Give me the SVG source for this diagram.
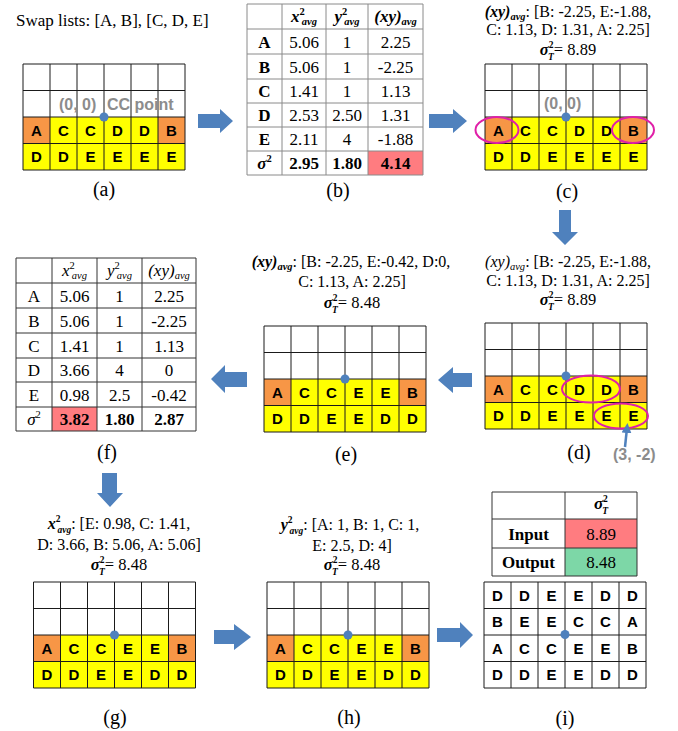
<svg xmlns="http://www.w3.org/2000/svg" width="678" height="731" viewBox="0 0 678 731">
<style>
.sf{font-family:"Liberation Serif","Times New Roman",serif;fill:#000}
.ss{font-family:"Liberation Sans",Arial,sans-serif}
.L{font-family:"Liberation Sans",Arial,sans-serif;font-weight:bold;font-size:15px;text-anchor:middle;fill:#000}
.o{fill:#F79646}
.y{fill:#FFFF00}
.w{fill:#FFFFFF}
.gl{fill:none;stroke:#1a1a1a;stroke-width:1}
.tb{fill:none;stroke:#8a8a8a;stroke-width:1}
.tbk{fill:none;stroke:#333;stroke-width:1}
.arr{fill:#4F81BD}
.dot{fill:#4F81BD}
.el{fill:none;stroke:#E020A8;stroke-width:2}
.gray{font-family:"Liberation Sans",Arial,sans-serif;font-weight:bold;font-size:16px;fill:#8C8C8C}
.blk{font-size:16px;text-anchor:middle}
.sig{font-size:16.5px;text-anchor:middle}
.bi{font-weight:bold;font-style:italic}
.it{font-style:italic}
.b{font-weight:bold}
.sm{font-size:10.5px}
.s9{font-size:9.5px}
.td{font-size:17px;text-anchor:middle}
.lab{font-size:20px;text-anchor:middle}
.red{fill:#FF7C80}
.grn{fill:#7DD7A7}
</style>
<defs>
<path id="gridlines" class="gl" d="M0,0H162V106H0Z M27,0V106 M54,0V106 M81,0V106 M108,0V106 M135,0V106 M0,26.5H162 M0,53H162 M0,79.5H162"/>
<marker id="ah" viewBox="0 0 10 10" refX="5" refY="5" markerWidth="4" markerHeight="4" orient="auto">
<path d="M0,0L10,5L0,10Z" fill="#4F81BD"/>
</marker>
</defs>

<text class="sf" x="16" y="26" font-size="17">Swap lists: [A, B], [C, D, E]</text>

<!-- (a) -->
<g id="node-a">
<g transform="translate(23,64)">
<rect class="w" x="0" y="0" width="162" height="53"/>
<rect class="y" x="0" y="53" width="162" height="53"/>
<rect class="o" x="0" y="53" width="27" height="26.5"/>
<rect class="o" x="135" y="53" width="27" height="26.5"/>
<use href="#gridlines"/>
<text class="L" x="13.5" y="71.5">A</text><text class="L" x="40.5" y="71.5">C</text><text class="L" x="67.5" y="71.5">C</text><text class="L" x="94.5" y="71.5">D</text><text class="L" x="121.5" y="71.5">D</text><text class="L" x="148.5" y="71.5">B</text>
<text class="L" x="13.5" y="98">D</text><text class="L" x="40.5" y="98">D</text><text class="L" x="67.5" y="98">E</text><text class="L" x="94.5" y="98">E</text><text class="L" x="121.5" y="98">E</text><text class="L" x="148.5" y="98">E</text>
<text class="gray" x="36" y="46">(0, 0)</text>
<text class="gray" x="84" y="46">CC point</text>
<circle class="dot" cx="81" cy="53" r="4.5"/>
</g>
<text class="sf lab" x="104" y="196">(a)</text>
</g>

<!-- (b) -->
<g id="node-b">
<rect class="red" x="368" y="151" width="55" height="24"/>
<path class="tb" d="M247,4H423V175H247Z M282,4V175 M326,4V175 M368,4V175 M247,29H423 M247,54H423 M247,79H423 M247,103H423 M247,127H423 M247,151H423"/>
<text class="sf td" x="304" y="22"><tspan class="bi">x</tspan><tspan class="b sm" dy="-7">2</tspan><tspan class="bi sm" dx="-3" dy="10">avg</tspan></text>
<text class="sf td" x="347" y="22"><tspan class="bi">y</tspan><tspan class="b sm" dy="-7">2</tspan><tspan class="bi sm" dx="-3" dy="10">avg</tspan></text>
<text class="sf td" x="395.5" y="22"><tspan class="bi">(xy)</tspan><tspan class="bi sm" dy="3">avg</tspan></text>
<text class="sf td b" x="264.5" y="47.5">A</text><text class="sf td" x="304" y="47.5">5.06</text><text class="sf td" x="347" y="47.5">1</text><text class="sf td" x="395.5" y="47.5">2.25</text>
<text class="sf td b" x="264.5" y="72.5">B</text><text class="sf td" x="304" y="72.5">5.06</text><text class="sf td" x="347" y="72.5">1</text><text class="sf td" x="395.5" y="72.5">-2.25</text>
<text class="sf td b" x="264.5" y="97">C</text><text class="sf td" x="304" y="97">1.41</text><text class="sf td" x="347" y="97">1</text><text class="sf td" x="395.5" y="97">1.13</text>
<text class="sf td b" x="264.5" y="121">D</text><text class="sf td" x="304" y="121">2.53</text><text class="sf td" x="347" y="121">2.50</text><text class="sf td" x="395.5" y="121">1.31</text>
<text class="sf td b" x="264.5" y="145">E</text><text class="sf td" x="304" y="145">2.11</text><text class="sf td" x="347" y="145">4</text><text class="sf td" x="395.5" y="145">-1.88</text>
<text class="sf td" x="264.5" y="169"><tspan class="bi">σ</tspan><tspan class="b sm" dy="-7">2</tspan></text><text class="sf td b" x="304" y="169">2.95</text><text class="sf td b" x="347" y="169">1.80</text><text class="sf td b" x="395.5" y="169">4.14</text>
<text class="sf lab" x="338" y="197">(b)</text>
</g>

<!-- (c) -->
<g id="node-c">
<text class="sf blk" x="568" y="17"><tspan class="bi">(xy)</tspan><tspan class="bi sm" dy="3">avg</tspan><tspan dy="-3">: [B: -2.25, E:-1.88,</tspan></text>
<text class="sf blk" x="568" y="35">C: 1.13, D: 1.31, A: 2.25]</text>
<text class="sf sig" x="568" y="55"><tspan class="bi">σ</tspan><tspan class="b s9" dy="-7">2</tspan><tspan class="bi s9" dx="-5.5" dy="12">T</tspan><tspan dy="-5">= 8.89</tspan></text>
<g transform="translate(485,64)">
<rect class="w" x="0" y="0" width="162" height="53"/>
<rect class="y" x="0" y="53" width="162" height="53"/>
<rect class="o" x="0" y="53" width="27" height="26.5"/>
<rect class="o" x="135" y="53" width="27" height="26.5"/>
<use href="#gridlines"/>
<text class="L" x="13.5" y="71.5">A</text><text class="L" x="40.5" y="71.5">C</text><text class="L" x="67.5" y="71.5">C</text><text class="L" x="94.5" y="71.5">D</text><text class="L" x="121.5" y="71.5">D</text><text class="L" x="148.5" y="71.5">B</text>
<text class="L" x="13.5" y="98">D</text><text class="L" x="40.5" y="98">D</text><text class="L" x="67.5" y="98">E</text><text class="L" x="94.5" y="98">E</text><text class="L" x="121.5" y="98">E</text><text class="L" x="148.5" y="98">E</text>
<text class="gray" x="59" y="45">(0, 0)</text>
<circle class="dot" cx="81" cy="53" r="4.5"/>
<ellipse class="el" cx="12" cy="66" rx="21.5" ry="13"/>
<ellipse class="el" cx="148" cy="66" rx="21" ry="13"/>
</g>
<text class="sf lab" x="567" y="198">(c)</text>
</g>

<!-- (d) -->
<g id="node-d">
<text class="sf blk" x="568" y="267"><tspan class="it">(xy)</tspan><tspan class="it sm" dy="3">avg</tspan><tspan dy="-3">: [B: -2.25, E:-1.88,</tspan></text>
<text class="sf blk" x="568" y="286">C: 1.13, D: 1.31, A: 2.25]</text>
<text class="sf sig" x="568" y="305"><tspan class="bi">σ</tspan><tspan class="b s9" dy="-7">2</tspan><tspan class="bi s9" dx="-5.5" dy="12">T</tspan><tspan dy="-5">= 8.89</tspan></text>
<g transform="translate(485,323)">
<rect class="w" x="0" y="0" width="162" height="53"/>
<rect class="y" x="0" y="53" width="162" height="53"/>
<rect class="o" x="0" y="53" width="27" height="26.5"/>
<rect class="o" x="135" y="53" width="27" height="26.5"/>
<use href="#gridlines"/>
<text class="L" x="13.5" y="71.5">A</text><text class="L" x="40.5" y="71.5">C</text><text class="L" x="67.5" y="71.5">C</text><text class="L" x="94.5" y="71.5">D</text><text class="L" x="121.5" y="71.5">D</text><text class="L" x="148.5" y="71.5">B</text>
<text class="L" x="13.5" y="98">D</text><text class="L" x="40.5" y="98">D</text><text class="L" x="67.5" y="98">E</text><text class="L" x="94.5" y="98">E</text><text class="L" x="121.5" y="98">E</text><text class="L" x="148.5" y="98">E</text>
<circle class="dot" cx="81" cy="53" r="4.5"/>
<ellipse class="el" cx="106" cy="66" rx="29" ry="13.5"/>
<ellipse class="el" cx="136" cy="93" rx="27" ry="12.5"/>
</g>
<line x1="625" y1="447" x2="627" y2="428" stroke="#4F81BD" stroke-width="2.5" marker-end="url(#ah)"/>
<text class="gray" x="613" y="460" font-size="15.5">(3, -2)</text>
<text class="sf lab" x="579" y="459">(d)</text>
</g>

<!-- (e) -->
<g id="node-e">
<text class="sf blk" x="351" y="267"><tspan class="bi">(xy)</tspan><tspan class="bi sm" dy="3">avg</tspan><tspan dy="-3">: [B: -2.25, E:-0.42, D:0,</tspan></text>
<text class="sf blk" x="352" y="287">C: 1.13, A: 2.25]</text>
<text class="sf sig" x="352" y="308"><tspan class="bi">σ</tspan><tspan class="b s9" dy="-7">2</tspan><tspan class="bi s9" dx="-5.5" dy="12">T</tspan><tspan dy="-5">= 8.48</tspan></text>
<g transform="translate(264,326)">
<rect class="w" x="0" y="0" width="162" height="53"/>
<rect class="y" x="0" y="53" width="162" height="53"/>
<rect class="o" x="0" y="53" width="27" height="26.5"/>
<rect class="o" x="135" y="53" width="27" height="26.5"/>
<use href="#gridlines"/>
<text class="L" x="13.5" y="71.5">A</text><text class="L" x="40.5" y="71.5">C</text><text class="L" x="67.5" y="71.5">C</text><text class="L" x="94.5" y="71.5">E</text><text class="L" x="121.5" y="71.5">E</text><text class="L" x="148.5" y="71.5">B</text>
<text class="L" x="13.5" y="98">D</text><text class="L" x="40.5" y="98">D</text><text class="L" x="67.5" y="98">E</text><text class="L" x="94.5" y="98">E</text><text class="L" x="121.5" y="98">D</text><text class="L" x="148.5" y="98">D</text>
<circle class="dot" cx="81" cy="53" r="4.5"/>
</g>
<text class="sf lab" x="346" y="461">(e)</text>
</g>

<!-- (f) -->
<g id="node-f">
<rect class="red" x="52" y="407" width="45" height="24"/>
<path class="tbk" d="M16,258H196V431H16Z M52,258V431 M97,258V431 M142,258V431 M16,283H196 M16,308H196 M16,333H196 M16,358H196 M16,382H196 M16,407H196"/>
<text class="sf td" x="74.5" y="276"><tspan class="it">x</tspan><tspan class="sm" dy="-7">2</tspan><tspan class="it sm" dx="-3" dy="10">avg</tspan></text>
<text class="sf td" x="119.5" y="276"><tspan class="it">y</tspan><tspan class="sm" dy="-7">2</tspan><tspan class="it sm" dx="-3" dy="10">avg</tspan></text>
<text class="sf td" x="169" y="276"><tspan class="it">(xy)</tspan><tspan class="it sm" dy="3">avg</tspan></text>
<text class="sf td" x="34" y="301.5">A</text><text class="sf td" x="74.5" y="301.5">5.06</text><text class="sf td" x="119.5" y="301.5">1</text><text class="sf td" x="169" y="301.5">2.25</text>
<text class="sf td" x="34" y="326.5">B</text><text class="sf td" x="74.5" y="326.5">5.06</text><text class="sf td" x="119.5" y="326.5">1</text><text class="sf td" x="169" y="326.5">-2.25</text>
<text class="sf td" x="34" y="351.5">C</text><text class="sf td" x="74.5" y="351.5">1.41</text><text class="sf td" x="119.5" y="351.5">1</text><text class="sf td" x="169" y="351.5">1.13</text>
<text class="sf td" x="34" y="376">D</text><text class="sf td" x="74.5" y="376">3.66</text><text class="sf td" x="119.5" y="376">4</text><text class="sf td" x="169" y="376">0</text>
<text class="sf td" x="34" y="400.5">E</text><text class="sf td" x="74.5" y="400.5">0.98</text><text class="sf td" x="119.5" y="400.5">2.5</text><text class="sf td" x="169" y="400.5">-0.42</text>
<text class="sf td" x="34" y="425"><tspan class="it">σ</tspan><tspan class="sm" dy="-7">2</tspan></text><text class="sf td b" x="74.5" y="425">3.82</text><text class="sf td b" x="119.5" y="425">1.80</text><text class="sf td b" x="169" y="425">2.87</text>
<text class="sf lab" x="107" y="459">(f)</text>
</g>

<!-- (g) -->
<g id="node-g">
<text class="sf blk" x="119" y="529"><tspan class="bi">x</tspan><tspan class="b s9" dy="-7">2</tspan><tspan class="bi s9" dx="-3" dy="11">avg</tspan><tspan dy="-4">: [E: 0.98, C: 1.41,</tspan></text>
<text class="sf blk" x="119" y="550">D: 3.66, B: 5.06, A: 5.06]</text>
<text class="sf sig" x="119" y="570"><tspan class="bi">σ</tspan><tspan class="b s9" dy="-7">2</tspan><tspan class="bi s9" dx="-5.5" dy="12">T</tspan><tspan dy="-5">= 8.48</tspan></text>
<g transform="translate(33.5,582)">
<rect class="w" x="0" y="0" width="162" height="53"/>
<rect class="y" x="0" y="53" width="162" height="53"/>
<rect class="o" x="0" y="53" width="27" height="26.5"/>
<rect class="o" x="135" y="53" width="27" height="26.5"/>
<use href="#gridlines"/>
<text class="L" x="13.5" y="71.5">A</text><text class="L" x="40.5" y="71.5">C</text><text class="L" x="67.5" y="71.5">C</text><text class="L" x="94.5" y="71.5">E</text><text class="L" x="121.5" y="71.5">E</text><text class="L" x="148.5" y="71.5">B</text>
<text class="L" x="13.5" y="98">D</text><text class="L" x="40.5" y="98">D</text><text class="L" x="67.5" y="98">E</text><text class="L" x="94.5" y="98">E</text><text class="L" x="121.5" y="98">D</text><text class="L" x="148.5" y="98">D</text>
<circle class="dot" cx="81" cy="53" r="4.5"/>
</g>
<text class="sf lab" x="115" y="724">(g)</text>
</g>

<!-- (h) -->
<g id="node-h">
<text class="sf blk" x="350" y="530"><tspan class="bi">y</tspan><tspan class="b s9" dy="-7">2</tspan><tspan class="bi s9" dx="-3" dy="11">avg</tspan><tspan dy="-4">: [A: 1, B: 1, C: 1,</tspan></text>
<text class="sf blk" x="352" y="551">E: 2.5, D: 4]</text>
<text class="sf sig" x="352" y="570"><tspan class="bi">σ</tspan><tspan class="b s9" dy="-7">2</tspan><tspan class="bi s9" dx="-5.5" dy="12">T</tspan><tspan dy="-5">= 8.48</tspan></text>
<g transform="translate(267,582)">
<rect class="w" x="0" y="0" width="162" height="53"/>
<rect class="y" x="0" y="53" width="162" height="53"/>
<rect class="o" x="0" y="53" width="27" height="26.5"/>
<rect class="o" x="135" y="53" width="27" height="26.5"/>
<use href="#gridlines"/>
<text class="L" x="13.5" y="71.5">A</text><text class="L" x="40.5" y="71.5">C</text><text class="L" x="67.5" y="71.5">C</text><text class="L" x="94.5" y="71.5">E</text><text class="L" x="121.5" y="71.5">E</text><text class="L" x="148.5" y="71.5">B</text>
<text class="L" x="13.5" y="98">D</text><text class="L" x="40.5" y="98">D</text><text class="L" x="67.5" y="98">E</text><text class="L" x="94.5" y="98">E</text><text class="L" x="121.5" y="98">D</text><text class="L" x="148.5" y="98">D</text>
<circle class="dot" cx="81" cy="53" r="4.5"/>
</g>
<text class="sf lab" x="349" y="724">(h)</text>
</g>

<!-- (i) -->
<g id="node-i">
<rect class="red" x="565" y="519" width="72" height="29"/>
<rect class="grn" x="565" y="548" width="72" height="28"/>
<path class="tbk" d="M492,492H637V576H492Z M565,492V576 M492,519H637 M492,548H637"/>
<text class="sf td" x="601" y="509"><tspan class="bi">σ</tspan><tspan class="b s9" dy="-7">2</tspan><tspan class="bi s9" dx="-5.5" dy="12">T</tspan></text>
<text class="sf td b" x="528.5" y="539.5">Input</text><text class="sf td" x="601" y="539.5">8.89</text>
<text class="sf td b" x="528.5" y="568">Output</text><text class="sf td" x="601" y="568">8.48</text>
<g transform="translate(484,582)">
<rect class="w" x="0" y="0" width="162" height="106"/>
<use href="#gridlines"/>
<text class="L" x="13.5" y="18.5">D</text><text class="L" x="40.5" y="18.5">D</text><text class="L" x="67.5" y="18.5">E</text><text class="L" x="94.5" y="18.5">E</text><text class="L" x="121.5" y="18.5">D</text><text class="L" x="148.5" y="18.5">D</text>
<text class="L" x="13.5" y="45">B</text><text class="L" x="40.5" y="45">E</text><text class="L" x="67.5" y="45">E</text><text class="L" x="94.5" y="45">C</text><text class="L" x="121.5" y="45">C</text><text class="L" x="148.5" y="45">A</text>
<text class="L" x="13.5" y="71.5">A</text><text class="L" x="40.5" y="71.5">C</text><text class="L" x="67.5" y="71.5">C</text><text class="L" x="94.5" y="71.5">E</text><text class="L" x="121.5" y="71.5">E</text><text class="L" x="148.5" y="71.5">B</text>
<text class="L" x="13.5" y="98">D</text><text class="L" x="40.5" y="98">D</text><text class="L" x="67.5" y="98">E</text><text class="L" x="94.5" y="98">E</text><text class="L" x="121.5" y="98">D</text><text class="L" x="148.5" y="98">D</text>
<circle class="dot" cx="81" cy="52.5" r="4.5"/>
</g>
<text class="sf lab" x="565" y="725">(i)</text>
</g>

<!-- connectors -->
<g id="connectors">
<polygon class="arr" points="198,114 220,114 220,109 233,121 220,133 220,128 198,128"/>
<polygon class="arr" points="429,114 453,114 453,109 467,121 453,133 453,128 429,128"/>
<polygon class="arr" points="559,210 571,210 571,232 578,232 565,245 552,232 559,232"/>
<polygon class="arr" points="472,373 453,373 453,367 438,380 453,393 453,387 472,387"/>
<polygon class="arr" points="247,372 225,372 225,365 211,379 225,393 225,387 247,387"/>
<polygon class="arr" points="102,473 117,473 117,493 123,493 110,507 97,493 102,493"/>
<polygon class="arr" points="214,630 234,630 234,624 251,637 234,650 234,644 214,644"/>
<polygon class="arr" points="437,628 460,628 460,622 473,635 460,648 460,642 437,642"/>
</g>
</svg>
